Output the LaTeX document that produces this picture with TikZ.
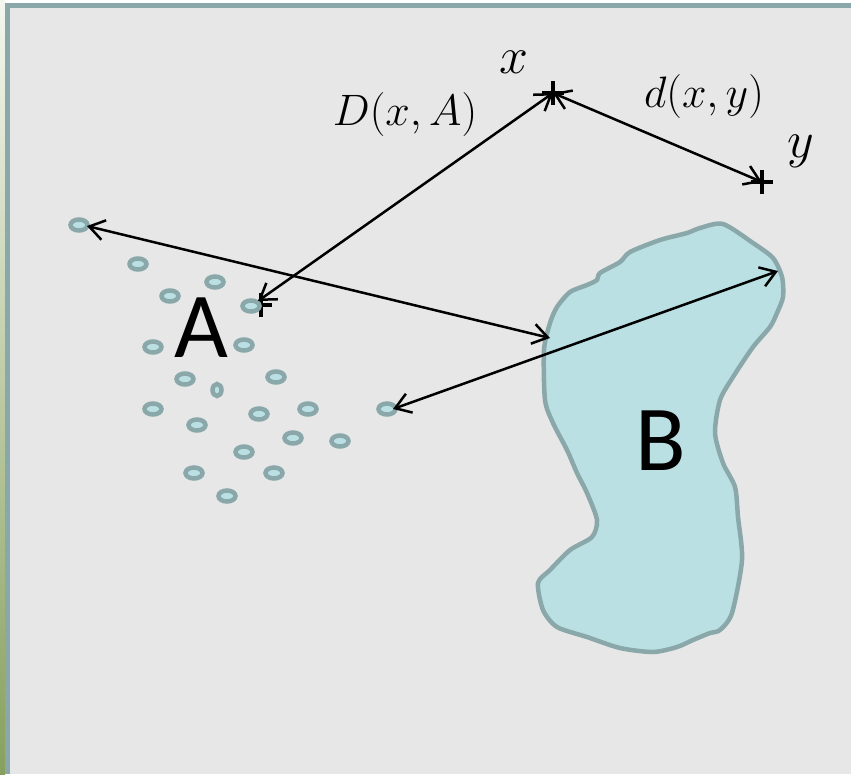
\RequirePackage{fix-cm}
\documentclass[tikz,border=0pt]{standalone}
\usepackage{fontspec}
\newfontfamily\setfont{Carlito}
\definecolor{framegray}{RGB}{138,168,170}
\definecolor{panelgray}{RGB}{231,231,231}
\definecolor{setfill}{RGB}{186,224,228}
\definecolor{stripgreen}{RGB}{135,160,94}
\definecolor{stripwhite}{RGB}{244,247,238}
\usepackage{tikz}
\usetikzlibrary{arrows.meta,calc}

\begin{document}
\begin{tikzpicture}[x=1pt,y=-1pt,
    >={Straight Barb[length=15pt,width=20pt]},
    dist/.style={<->,line width=2.5pt},
    crossmark/.style={line width=4pt},
    setdot/.style={draw=framegray,line width=4.5pt,fill=setfill},
    setname/.style={font=\setfont\fontsize{93}{93}\selectfont,anchor=base,inner sep=0pt},
    distname/.style={font=\fontsize{44}{44}\selectfont,anchor=base,inner sep=0pt},
    ptname/.style={font=\fontsize{52}{52}\selectfont,anchor=base,inner sep=0pt}]
    \useasboundingbox (0,0) rectangle (851,774);
    % frame
    \fill[white] (0,0) rectangle (851,774);
    \shade[top color=stripwhite,bottom color=stripgreen] (0,0) rectangle (5,774);
    \fill[framegray] (5,3) rectangle (851,774);
    \fill[panelgray] (10,8) rectangle (851,774);

    % set B
    \draw[setdot] plot[smooth cycle,tension=0.45] coordinates {
        (723,224) (753,243) (773,258) (782,277) (783,297) (777,313) (770,327)
        (753,347) (733,377) (720,400) (715,433) (723,463) (735,487) (738,517)
        (742,560) (732,613) (720,630) (710,633) (693,640) (677,647) (653,652)
        (620,648) (587,637) (557,627) (543,610) (538,583) (550,570) (570,550)
        (592,537) (597,520) (587,493) (577,473) (567,450) (553,423) (545,400)
        (544,350) (550,323) (557,307) (570,292) (587,285) (597,280) (600,273)
        (620,262) (630,252) (660,240) (687,233) (700,228)};
    \node[setname] (setB) at (661,470) {B};
    \node[setname] (setA) at (201.5,357) {A};

    \coordinate (ptx) at (553,93);
    \coordinate (pty) at (762,182);
    \coordinate (ptA) at (261,305);
    \foreach \p in {ptx,pty,ptA}
        \draw[crossmark] (\p) +(-11,0) -- +(11,0) (\p) +(0,-12) -- +(0,12);

    % set A
    \foreach \px/\py in {79/225, 138/264, 215/282, 170/296, 251/306, 153/347,
        244/345, 185/379, 276/377, 153/409, 197/425, 259/414, 308/409, 387/409,
        293/438, 340/441, 244/452, 194/473, 274/473, 227/496}
        \draw[setdot] (\px,\py) ellipse (8.5pt and 5.5pt);
    \draw[setdot] (217,390) ellipse (4.5pt and 6pt);

    \coordinate (nearA) at (258,301);
    \coordinate (farA) at (87,226);
    \coordinate (lowA) at (393,409);
    \coordinate (leftB) at (550,338);
    \coordinate (rightB) at (778,271);
    \draw[dist] (nearA) -- (ptx);
    \draw[dist] (ptx) -- (pty);
    \draw[dist] (farA) -- (leftB);
    \draw[dist] (lowA) -- (rightB);

    \node[ptname] (xname) at (514,73) {$x$};
    \node[ptname] (yname) at (801,157) {$y$};
    \node[distname] (Dname) at (405,125) {$D(x,A)$};
    \node[distname] (dname) at (704,107) {$d(x,y)$};
\end{tikzpicture}
\end{document}
